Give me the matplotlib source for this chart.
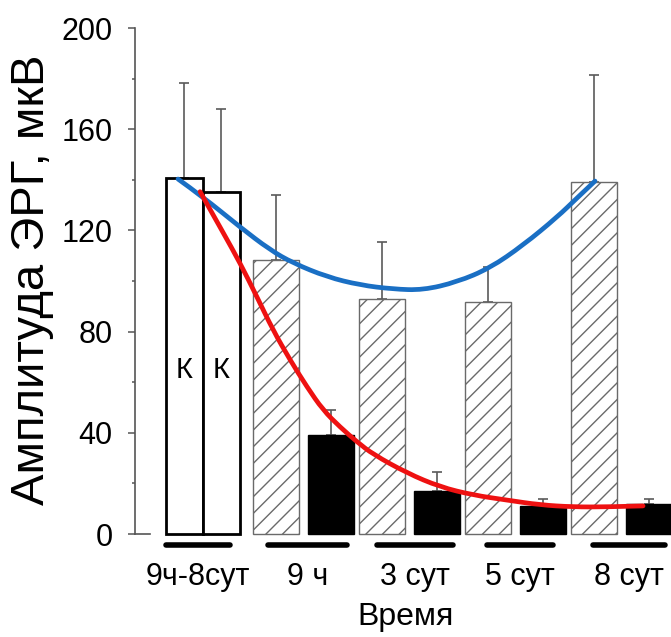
import matplotlib
matplotlib.use("Agg")
import matplotlib.pyplot as plt
import matplotlib.transforms as mtransforms
from matplotlib.ticker import MultipleLocator
from matplotlib.path import Path
from matplotlib.patches import PathPatch

plt.rcParams['font.family'] = ['Liberation Sans', 'DejaVu Sans']
plt.rcParams['hatch.linewidth'] = 1.0

# ---------------- data ----------------
groups = ["9ч-8сут", "9 ч", "3 сут", "5 сут", "8 сут"]
control_vals = [140.7, 135.0]
control_err = [37.4, 32.9]
hatched_vals = [108.3, 92.7, 91.8, 139.3]
hatched_err = [25.7, 22.8, 13.6, 42.1]
black_vals = [39.1, 17.0, 11.0, 11.9]
black_err = [9.9, 7.6, 2.8, 1.9]

# trend lines (x in group units, y in мкВ)
blue_x = [-0.184, 0.052, 0.401, 0.684, 0.901, 1.222, 1.533, 1.844, 2.127, 2.448, 2.759, 3.073, 3.394, 3.58, 3.75]
blue_y = [140.3, 133.2, 121.3, 112.3, 107.1, 101.6, 98.4, 96.8, 96.4, 99.6, 105.1, 114.2, 125.3, 132.8, 139.5]
red_x = [0.024, 0.241, 0.401, 0.561, 0.712, 0.873, 1.033, 1.184, 1.344, 1.505, 1.656, 1.976, 2.288, 2.599, 2.92, 3.231, 3.542, 3.863, 4.203]
red_y = [135.3, 119.2, 107.1, 93.7, 80.6, 68.8, 58.1, 49.0, 42.3, 36.4, 31.5, 24.1, 18.6, 15.4, 13.4, 11.5, 10.7, 10.7, 11.1]

y_ticks = [0, 40, 80, 120, 160, 200]

# ---------------- layout ----------------
group_pos = [0.05, 1, 2, 3, 4]
label_pos = [0.005, 1.038, 2.052, 3.042, 4.071]
line_w = [0.60, 0.75, 0.72, 0.62, 0.68]
ctrl_off = 0.175
ctrl_w = 0.35
pair_off = 0.26
pair_w = 0.434

W, H = 671, 637
fig = plt.figure(figsize=(W / 100, H / 100), dpi=100)
ax = fig.add_axes([135 / W, (H - 534) / H, 1 - 135 / W, (534 - 28) / H])
ax.set_xlim(-0.590, 4.467)
ax.set_ylim(0, 200)

# control bars
cx = [group_pos[0] - ctrl_off, group_pos[0] + ctrl_off]
ax.bar(cx, control_vals, width=ctrl_w, color='white', edgecolor='black',
       linewidth=2.0, clip_on=False, zorder=2)
ax.errorbar(cx, control_vals, yerr=[[0, 0], control_err], fmt='none',
            ecolor='#5a5a5a', elinewidth=1.2, capsize=3.5, capthick=1.2, zorder=1)
for x in cx:
    ax.text(x, 64.8, "К", ha='center', va='center', fontsize=21)

# hatched and black bars
hx = [p - pair_off for p in group_pos[1:]]
bx = [p + pair_off for p in group_pos[1:]]
ax.bar(hx, hatched_vals, width=pair_w, color='white', edgecolor='#6a6a6a',
       hatch='//', linewidth=1.0, clip_on=False, zorder=2)
ax.bar(bx, black_vals, width=pair_w, color='black', edgecolor='black',
       linewidth=1.0, clip_on=False, zorder=2)
ax.errorbar(hx, hatched_vals, yerr=[[0] * 4, hatched_err], fmt='none',
            ecolor='#5a5a5a', elinewidth=1.2, capsize=3.5, capthick=1.2, zorder=1)
ax.errorbar(bx, black_vals, yerr=[[0] * 4, black_err], fmt='none',
            ecolor='#5a5a5a', elinewidth=1.2, capsize=3.5, capthick=1.2, zorder=1)


def smooth_path(xs, ys):
    """Quadratic B-spline-like path: read points act as control points."""
    verts = [(xs[0], ys[0])]
    codes = [Path.MOVETO]
    n = len(xs)
    for i in range(1, n - 1):
        mx = (xs[i] + xs[i + 1]) / 2 if i < n - 2 else xs[i + 1]
        my = (ys[i] + ys[i + 1]) / 2 if i < n - 2 else ys[i + 1]
        verts += [(xs[i], ys[i]), (mx, my)]
        codes += [Path.CURVE3, Path.CURVE3]
    return Path(verts, codes)


for xs, ys, col in [(blue_x, blue_y, '#1a6fc4'), (red_x, red_y, '#ee1111')]:
    patch = PathPatch(smooth_path(xs, ys), facecolor='none', edgecolor=col,
                      linewidth=3.4, capstyle='round', joinstyle='round',
                      zorder=5, clip_on=False)
    ax.add_patch(patch)

# axes styling
for s in ['top', 'right']:
    ax.spines[s].set_visible(False)
ax.spines['left'].set_color('#555555')
ax.spines['left'].set_linewidth(1.2)
ax.spines['bottom'].set_color('#555555')
ax.spines['bottom'].set_linewidth(1.2)
ax.spines['bottom'].set_bounds(-0.590, -0.45)
ax.set_xticks([])
ax.set_yticks(y_ticks)
ax.yaxis.set_minor_locator(MultipleLocator(20))
ax.tick_params(axis='y', which='major', length=5, width=1.1, color='#555555',
               labelsize=22, pad=11)
ax.tick_params(axis='y', which='minor', length=2, width=1.1, color='#555555')

# group underlines and labels
trans = mtransforms.blended_transform_factory(ax.transData, ax.transAxes)
for p, lp, w, g in zip(group_pos, label_pos, line_w, groups):
    ax.plot([lp - w / 2, lp + w / 2], [-0.0217, -0.0217], color='black',
            linewidth=4, solid_capstyle='round', transform=trans, clip_on=False)
    ax.text(lp, -0.085, g, transform=trans, ha='center', va='center', fontsize=22)

ax.text(1.958, -0.164, "Время", transform=trans, ha='center', va='center', fontsize=23)
fig.text(32 / W, 1 - 280 / H, "Амплитуда ЭРГ, мкВ", rotation=90,
         ha='center', va='center', fontsize=34)

fig.savefig("out.png", dpi=100)
